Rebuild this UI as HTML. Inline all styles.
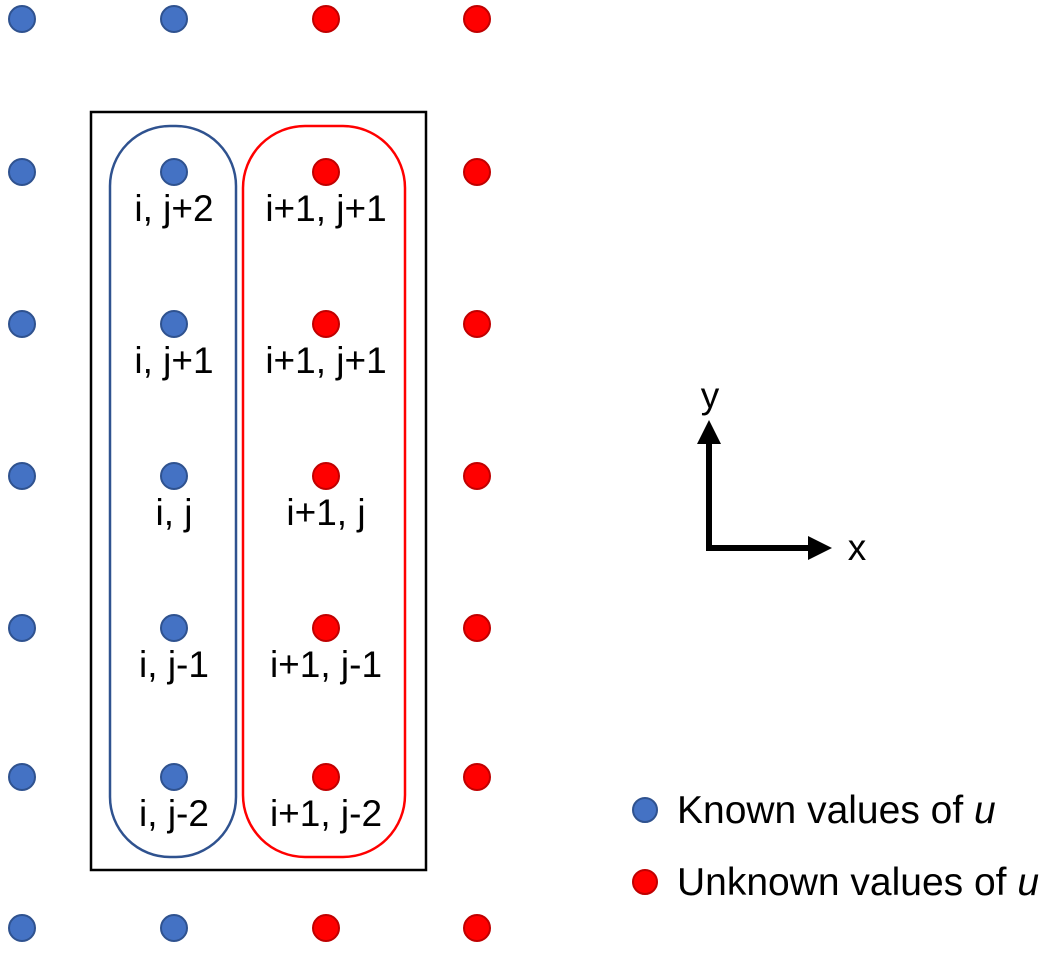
<!DOCTYPE html>
<html><head><meta charset="utf-8"><style>
body{margin:0;background:#fff;width:1043px;height:948px;overflow:hidden}
svg text{font-family:"Liberation Sans",sans-serif;font-size:37px;fill:#000}
</style></head><body>
<svg width="1043" height="948">
<rect x="91" y="112" width="335" height="758" fill="none" stroke="#000" stroke-width="2.5"/>
<rect x="110" y="126" width="126" height="731" rx="60" fill="none" stroke="#2F528F" stroke-width="2.5"/>
<rect x="243" y="126" width="162" height="731" rx="62" fill="none" stroke="#FF0000" stroke-width="2.5"/>
<g id="dots"></g>
<g id="labels"></g>
<g>
<line x1="709" y1="548" x2="709" y2="442" stroke="#000" stroke-width="6"/>
<polygon points="709,420 697,444 721,444" fill="#000"/>
<line x1="706" y1="548" x2="810" y2="548" stroke="#000" stroke-width="6"/>
<polygon points="832,548 808,536 808,560" fill="#000"/>
<text x="710" y="408" text-anchor="middle">y</text>
<text x="857" y="560" text-anchor="middle">x</text>
</g>
<g style="font-size:39px">
<circle cx="645" cy="810" r="12" fill="#4472C4" stroke="#2F528F" stroke-width="2"/>
<text x="677" y="823" style="font-size:39px">Known values of <tspan font-style="italic">u</tspan></text>
<circle cx="645" cy="882" r="12" fill="#FF0000" stroke="#C00000" stroke-width="2"/>
<text x="677" y="895" style="font-size:39px">Unknown values of <tspan font-style="italic">u</tspan></text>
</g>
</svg>
<script>
const cols=[22,174,326,477];
const rows=[19,172,324,476,628,777,928];
const colKnown=[true,true,false,false];
const leftLabels=["i, j+2","i, j+1","i, j","i, j-1","i, j-2"];
const rightLabels=["i+1, j+1","i+1, j+1","i+1, j","i+1, j-1","i+1, j-2"];
const ns="http://www.w3.org/2000/svg";
const dg=document.getElementById('dots');
cols.forEach((cx,ci)=>rows.forEach((cy,ri)=>{
 const c=document.createElementNS(ns,'circle');
 c.setAttribute('cx',cx);c.setAttribute('cy',cy);c.setAttribute('r',13);
 c.setAttribute('fill',colKnown[ci]?'#4472C4':'#FF0000');
 c.setAttribute('stroke',colKnown[ci]?'#2F528F':'#C00000');
 c.setAttribute('stroke-width',2);
 
 
 dg.appendChild(c);
}));
const lg=document.getElementById('labels');
function addLabel(x,y,s){
 const t=document.createElementNS(ns,'text');
 t.setAttribute('x',x);t.setAttribute('y',y);t.setAttribute('text-anchor','middle');
 t.textContent=s;
 
 
 lg.appendChild(t);
}
leftLabels.forEach((s,i)=>addLabel(cols[1],rows[i+1]+49,s));
rightLabels.forEach((s,i)=>addLabel(cols[2],rows[i+1]+49,s));
</script>
</body></html>
